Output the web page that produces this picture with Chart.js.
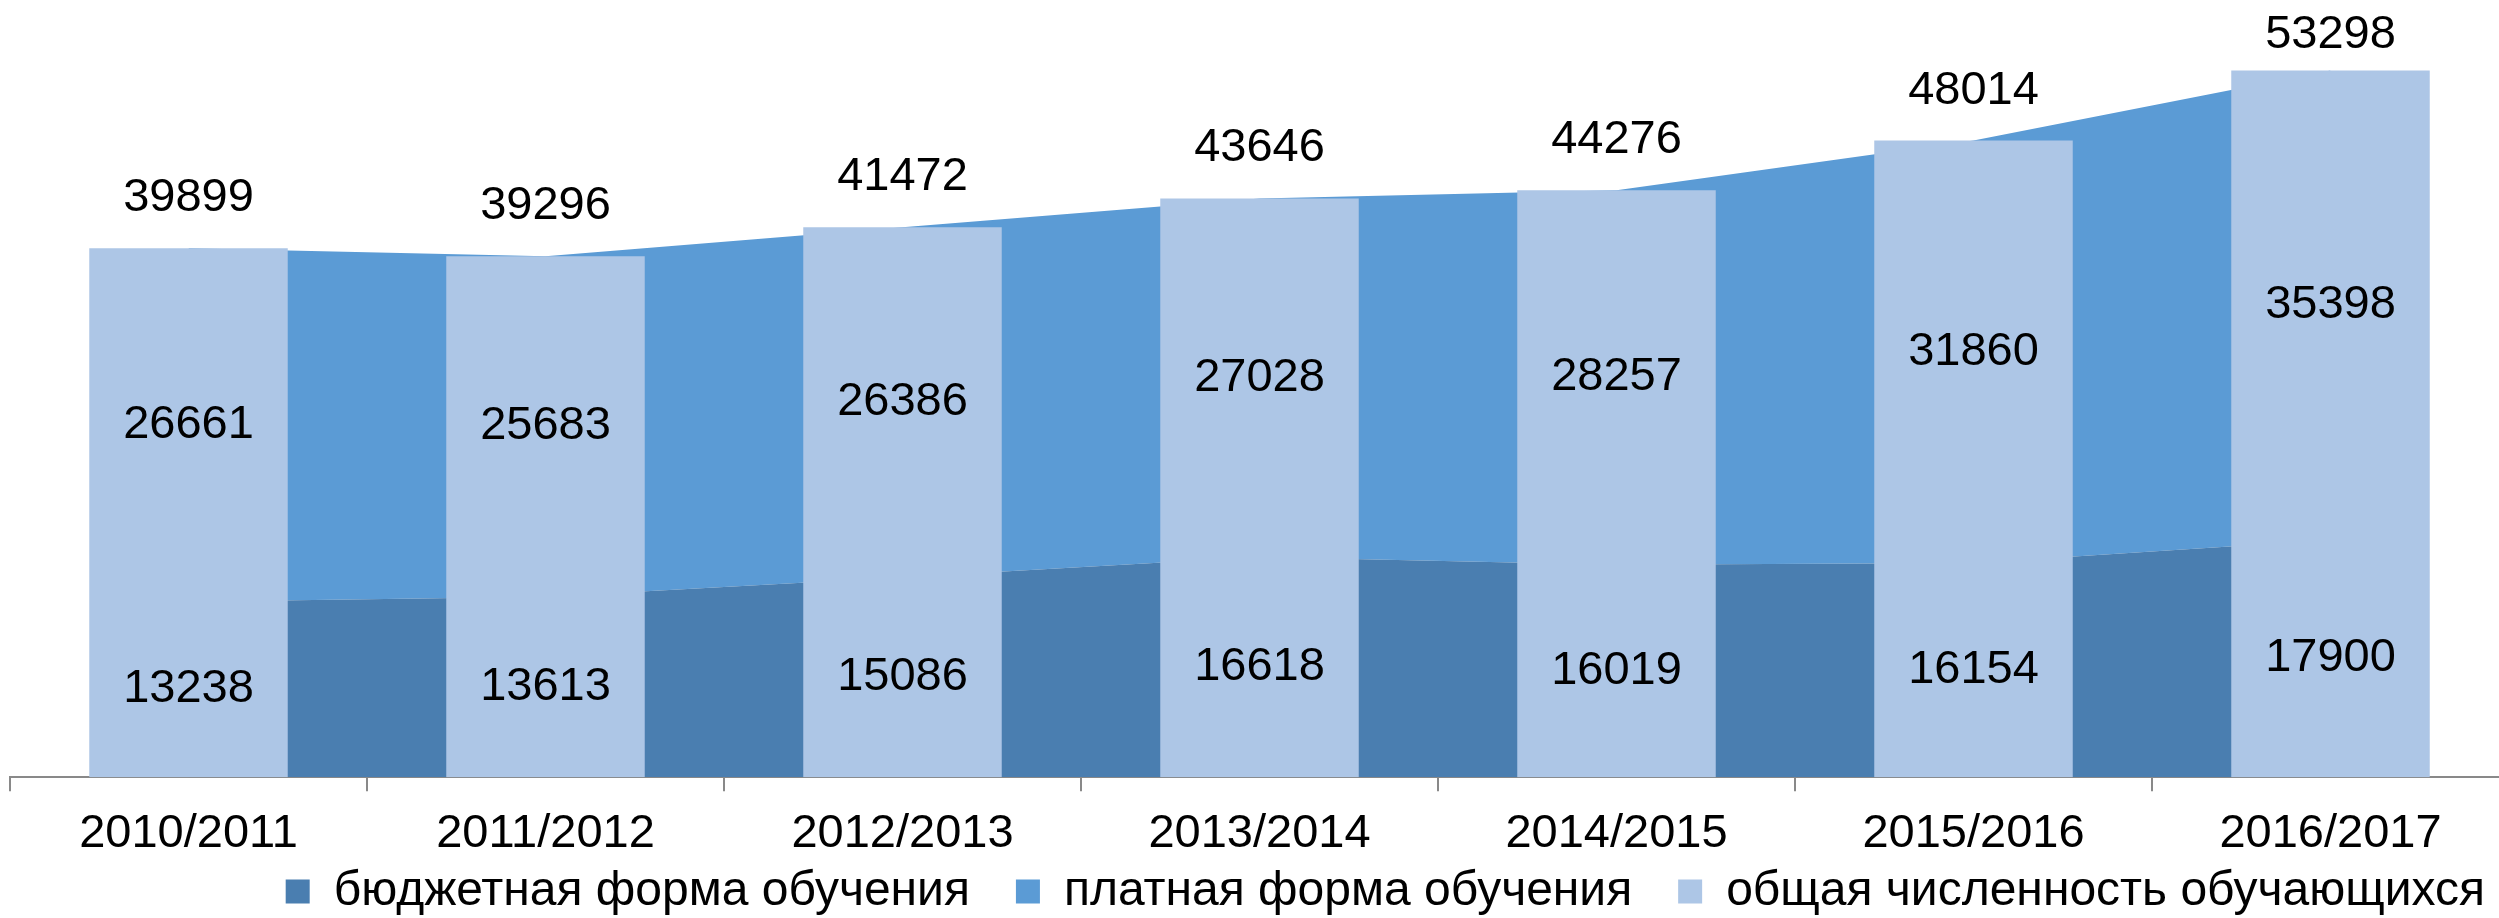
<!DOCTYPE html>
<html lang="ru">
<head>
    <meta charset="UTF-8">
    <title>Численность обучающихся</title>
    <script src="https://cdn.jsdelivr.net/npm/chart.js"></script>
    <style>
        html, body { margin: 0; padding: 0; background: #fff; overflow: hidden; }
        .chart-container { position: relative; width: 2509px; height: 918px; }
    </style>
</head>
<body>
    <div class="chart-container">
        <canvas id="studentsChart"></canvas>
    </div>

    <script>
        const years = ['2010/2011', '2011/2012', '2012/2013', '2013/2014', '2014/2015', '2015/2016', '2016/2017'];
        const budgetStudents = [13238, 13613, 15086, 16618, 16019, 16154, 17900];
        const paidStudents = [26661, 25683, 26386, 27028, 28257, 31860, 35398];
        const totalStudents = [39899, 39296, 41472, 43646, 44276, 48014, 53298];

        const seriesNames = ['бюджетная форма обучения', 'платная форма обучения', 'общая численность обучающихся'];
        const colors = ['#4a7eb0', '#5b9bd5', '#adc6e6'];

        const FONT = "'Liberation Sans', Arial, sans-serif";
        const FONT_SIZE = 47;

        // value labels: budget/paid in the middle of their band, total above the bar
        const valueLabels = {
            id: 'valueLabels',
            afterDatasetsDraw(chart) {
                const ctx = chart.ctx;
                const x = chart.scales.x;
                const y = chart.scales.y;
                ctx.save();
                ctx.font = FONT_SIZE + 'px ' + FONT;
                ctx.fillStyle = '#000';
                ctx.textAlign = 'center';
                ctx.textBaseline = 'middle';
                years.forEach((yr, i) => {
                    const px = x.getPixelForValue(i);
                    ctx.fillText(String(budgetStudents[i]), px, y.getPixelForValue(budgetStudents[i] / 2));
                    ctx.fillText(String(paidStudents[i]), px, y.getPixelForValue(budgetStudents[i] + paidStudents[i] / 2));
                    const top = Math.max(y.getPixelForValue(totalStudents[i]) - 50, 35);
                    ctx.fillText(String(totalStudents[i]), px, top);
                });
                ctx.restore();
            }
        };

        // move the legend row to where the original has it
        const legendPlace = {
            id: 'legendPlace',
            afterLayout(chart) {
                const lg = chart.legend;
                lg.top = 821.5;
                lg.bottom = chart.height;
                const dx = 2531 - lg.right;
                lg.left += dx;
                lg.right += dx;
            }
        };

        const ctx = document.getElementById('studentsChart').getContext('2d');
        new Chart(ctx, {
            data: {
                labels: years,
                datasets: [
                    {
                        type: 'line',
                        label: seriesNames[0],
                        data: budgetStudents,
                        backgroundColor: colors[0],
                        borderColor: 'rgba(0,0,0,0)',
                        borderWidth: 0,
                        pointRadius: 0,
                        fill: 'origin',
                        order: 1
                    },
                    {
                        type: 'line',
                        label: seriesNames[1],
                        data: paidStudents,
                        backgroundColor: colors[1],
                        borderColor: 'rgba(0,0,0,0)',
                        borderWidth: 0,
                        pointRadius: 0,
                        fill: '-1',
                        order: 1
                    },
                    {
                        type: 'bar',
                        label: seriesNames[2],
                        data: totalStudents,
                        backgroundColor: colors[2],
                        borderWidth: 0,
                        barPercentage: 0.556,
                        categoryPercentage: 1,
                        order: 0
                    }
                ]
            },
            options: {
                responsive: true,
                maintainAspectRatio: false,
                animation: false,
                layout: { padding: { top: 48, left: 10, right: 0, bottom: 0 } },
                plugins: {
                    tooltip: { enabled: false },
                    legend: {
                        position: 'bottom',
                        align: 'end',
                        maxHeight: 40.8,
                        labels: {
                            boxWidth: 24,
                            boxHeight: 24,
                            padding: 46,
                            color: '#000',
                            font: { family: FONT, size: 48 },
                            sort: (a, b) => a.datasetIndex - b.datasetIndex
                        }
                    }
                },
                scales: {
                    x: {
                        grid: {
                            display: true,
                            drawOnChartArea: false,
                            drawTicks: true,
                            tickLength: 14,
                            offset: true,
                            color: '#898989',
                            lineWidth: 2
                        },
                        border: { display: true, color: '#898989', width: 2 },
                        ticks: {
                            color: '#000',
                            padding: 14.8,
                            maxRotation: 0,
                            autoSkip: false,
                            font: { family: FONT, size: FONT_SIZE, lineHeight: 1.2 }
                        }
                    },
                    y: {
                        display: false,
                        stacked: true,
                        min: 0,
                        max: 55000
                    }
                }
            },
            plugins: [valueLabels, legendPlace]
        });
    </script>
</body>
</html>
